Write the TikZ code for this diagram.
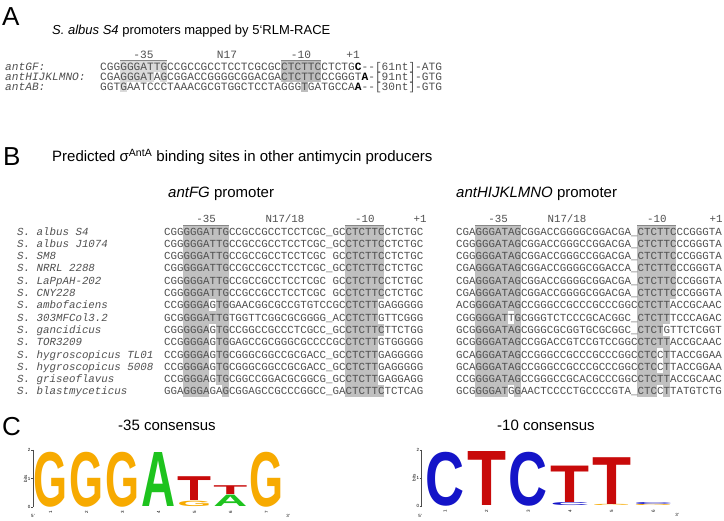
\documentclass[tikz,border=0pt]{standalone}
\usepackage{fontspec}
\setmainfont{Liberation Sans}
\setmonofont{Liberation Mono}
\usepackage{graphicx}
\definecolor{seqgray}{RGB}{80,80,80}
\definecolor{boxB}{RGB}{192,192,192}
\definecolor{boxAa}{RGB}{218,218,218}
\definecolor{boxAb}{RGB}{190,190,190}
\definecolor{ovl}{RGB}{135,135,135}
\definecolor{lgG}{RGB}{247,170,0}
\definecolor{lgA}{RGB}{30,195,30}
\definecolor{lgT}{RGB}{200,10,10}
\definecolor{lgC}{RGB}{20,20,200}
\tikzset{
 seq/.style={inner sep=0pt, anchor=base west, text=seqgray, font=\ttfamily\fontsize{10.8}{12}\selectfont},
 lab/.style={seq, font=\ttfamily\itshape\fontsize{10.8}{12}\selectfont},
 hdr/.style={inner sep=0pt, anchor=base, text=seqgray, font=\ttfamily\fontsize{10.8}{12}\selectfont},
 seqA/.style={seq, font=\ttfamily\fontsize{11.17}{12}\selectfont},
 labA/.style={seq, font=\ttfamily\itshape\fontsize{11.17}{12}\selectfont},
 hdrA/.style={hdr, font=\ttfamily\fontsize{11.17}{12}\selectfont},
 ttl/.style={inner sep=0pt, anchor=base west, font=\fontsize{15}{17}\selectfont},
 ttlA/.style={inner sep=0pt, anchor=base west, font=\fontsize{13}{15}\selectfont},
 big/.style={inner sep=0pt, anchor=base west, font=\fontsize{26}{28}\selectfont},
 tiny/.style={inner sep=0pt, font=\fontsize{4.5}{5}\selectfont},
 ovline/.style={draw=ovl, line width=1.2pt},
 axisline/.style={draw=black!70, line width=0.5pt},
}
\newcommand\logoltr[7]{\node[inner sep=0pt, anchor=south] (#1) at (#4,#5) {\resizebox*{#6pt}{#7pt}{\textcolor{#3}{\bfseries #2}}};}
\newcommand\hole[3]{\fill[white] ({#1+(#3-1)*6.48},{225.35+12.3*(#2-1)}) rectangle ++(6.48,12.3);}
\newcommand\brow[4]{%
 \node[lab] (sp#1) at (17,{231.5+12.3*(#1-1)+3.6}) {#2};
 \node[seq] (fg#1) at (164,{231.5+12.3*(#1-1)+3.6}) {#3};
 \node[seq] (hij#1) at (456,{231.5+12.3*(#1-1)+3.6}) {#4};}
\begin{document}
\begin{tikzpicture}[x=1pt,y=-1pt]
\useasboundingbox (0,0) rectangle (724,521);
\fill[white] (0,0) rectangle (724,521);
% ---------------- Panel A ----------------
\node[big] (pA) at (2,25.3) {A};
\node[ttlA] (tA) at (52,34.5) {\textit{S. albus S4} promoters mapped by 5‘RLM-RACE};
% boxes
\fill[boxAa] ({100+3*6.7},60.5) rectangle ({100+10*6.7},82);
\fill[white] ({100+8*6.7},72) rectangle ({100+9*6.7},82);
\fill[boxAa] ({100+3*6.7},82) rectangle ({100+4*6.7},92);
\fill[boxAb] ({100+27*6.7},60.5) rectangle ({100+33*6.7},82);
\fill[boxAb] ({100+30*6.7},82) rectangle ({100+31*6.7},92);
\draw[ovline] ({100+3*6.7},60.5) -- ({100+10*6.7},60.5);
\draw[ovline] ({100+27*6.7},60.5) -- ({100+33*6.7},60.5);
\node[hdrA] (hA1) at ({100+6.5*6.7},58.4) {-35};
\node[hdrA] (hA2) at (227,58.4) {N17};
\node[hdrA] (hA3) at ({100+30*6.7},58.4) {-10};
\node[hdrA] (hA4) at (353,58.4) {+1};
\node[labA] (la1) at (5,70.7) {antGF:};
\node[labA] (la2) at (5,80.7) {antHIJKLMNO:};
\node[labA] (la3) at (5,90.7) {antAB:};
\node[seqA] (sa1) at (100,70.7) {CGGGGGATTGCCGCCGCCTCCTCGCGCCTCTTCCTCTG\textcolor{black}{\bfseries C}--[61nt]-ATG};
\node[seqA] (sa2) at (100,80.7) {CGAGGGATAGCGGACCGGGGCGGACGACTCTTCCCGGGT\textcolor{black}{\bfseries A}-[91nt]-GTG};
\node[seqA] (sa3) at (100,90.7) {GGTGAATCCCTAAACGCGTGGCTCCTAGGGTGATGCCA\textcolor{black}{\bfseries A}--[30nt]-GTG};
% ---------------- Panel B ----------------
\node[big] (pB) at (3,165.3) {B};
\node[ttl] (tB) at (52,161.5) {Predicted σ\textsuperscript{AntA} binding sites in other antimycin producers};
\node[ttl] (tFG) at (168,197.5) {\textit{antFG} promoter};
\node[ttl] (tHIJ) at (456,197.5) {\textit{antHIJKLMNO} promoter};
% shaded boxes
\fill[boxB] ({164+3*6.48},225.35) rectangle ({164+10*6.48},397.45);
\fill[boxB] ({164+28*6.48},225.35) rectangle ({164+34*6.48},397.45);
\fill[boxB] ({456+3*6.48},225.35) rectangle ({456+10*6.48},397.45);
\fill[boxB] ({456+28*6.48},225.35) rectangle ({456+34*6.48},397.45);
\foreach \r/\p in {7/8,9/8,10/8,11/8,12/8,13/8,14/8,14/9,7/34,8/34,10/34,11/34,12/34,13/34} {\hole{164}{\r}{\p}}
\foreach \r/\p in {8/9,14/9,7/34,8/34,9/33,9/34,10/34,11/32,11/34,12/32,12/34,13/34,14/32,14/34} {\hole{456}{\r}{\p}}
\draw[ovline] ({164+3*6.48},225.35) -- ({164+10*6.48},225.35);
\draw[ovline] ({164+28*6.48},225.35) -- ({164+34*6.48},225.35);
\draw[ovline] ({456+3*6.48},225.35) -- ({456+10*6.48},225.35);
\draw[ovline] ({456+28*6.48},225.35) -- ({456+34*6.48},225.35);
\node[hdr] (hF1) at ({164+6.5*6.48},222.6) {-35};
\node[hdr] (hF2) at (285,222.6) {N17/18};
\node[hdr] (hF3) at ({164+31*6.48},222.6) {-10};
\node[hdr] (hF4) at (420,222.6) {+1};
\node[hdr] (hH1) at ({456+6.5*6.48},222.6) {-35};
\node[hdr] (hH2) at (567,222.6) {N17/18};
\node[hdr] (hH3) at ({456+31*6.48},222.6) {-10};
\node[hdr] (hH4) at (716,222.6) {+1};
\brow{1}{S. albus S4}{CGGGGGATTGCCGCCGCCTCCTCGC\_GCCTCTTCCTCTGC}{CGAGGGATAGCGGACCGGGGCGGACGA\_CTCTTCCCGGGTA}
\brow{2}{S. albus J1074}{CGGGGGATTGCCGCCGCCTCCTCGC\_GCCTCTTCCTCTGC}{CGGGGGATAGCGGACCGGGCCGGACGA\_CTCTTCCCGGGTA}
\brow{3}{S. SM8}{CGGGGGATTGCCGCCGCCTCCTCGC\ GCCTCTTCCTCTGC}{CGGGGGATAGCGGACCGGGCCGGACGA\_CTCTTCCCGGGTA}
\brow{4}{S. NRRL 2288}{CGGGGGATTGCCGCCGCCTCCTCGC\_GCCTCTTCCTCTGC}{CGAGGGATAGCGGACCGGGGCGGACCA\_CTCTTCCCGGGTA}
\brow{5}{S. LaPpAH-202}{CGGGGGATTGCCGCCGCCTCCTCGC\ GCCTCTTCCTCTGC}{CGAGGGATAGCGGACCGGGGCGGACGA\_CTCTTCCCGGGTA}
\brow{6}{S. CNY228}{CGGGGGATTGCCGCCGCCTCCTCGC\ GCCTCTTCCTCTGC}{CGAGGGATAGCGGACCGGGGCGGACGA\_CTCTTCCCGGGTA}
\brow{7}{S. ambofaciens}{CCGGGGAGTGGAACGGCGCCGTGTCCGCCTCTTGAGGGGG}{ACGGGGATAGCCGGGCCGCCCGCCCGGCCTCTTACCGCAAC}
\brow{8}{S. 303MFCol3.2}{GCGGGGATTGTGGTTCGGCGCGGGG\_ACCTCTTGTTCGGG}{CGGGGGATTGCGGGTCTCCCGCACGGC\_CTCTTTCCCAGAC}
\brow{9}{S. gancidicus}{CGGGGGAGTGCCGGCCGCCCTCGCC\_GCCTCTTCTTCTGG}{GCGGGGATAGCGGGCGCGGTGCGCGGC\_CTCTGTTCTCGGT}
\brow{10}{S. TOR3209}{CCGGGGAGTGGAGCCGCGGGCGCCCCGCCTCTTGTGGGGG}{GCGGGGATAGCCGGACCGTCCGTCCGGCCTCTTACCGCAAC}
\brow{11}{S. hygroscopicus TL01}{CCGGGGAGTGCGGGCGGCCGCGACC\_GCCTCTTGAGGGGG}{GCAGGGATAGCCGGGCCGCCCGCCCGGCCTCCTTACCGGAA}
\brow{12}{S. hygroscopicus 5008}{CCGGGGAGTGCGGGCGGCCGCGACC\_GCCTCTTGAGGGGG}{GCAGGGATAGCCGGGCCGCCCGCCCGGCCTCCTTACCGGAA}
\brow{13}{S. griseoflavus}{CCGGGGAGTGCGGCCGGACGCGGCG\_GCCTCTTGAGGAGG}{CCGGGGATAGCCGGGCCGCACGCCCGGCCTCTTACCGCAAC}
\brow{14}{S. blastmyceticus}{GGAGGGAGAGCGGAGCCGCCCGGCC\_GACTCTTCTCTCAG}{GCGGGGATGGAACTCCCCTGCCCCGTA\_CTCCTTATGTCTG}
% ---------------- Panel C ----------------
\node[big] (pC) at (2,435.3) {C};
\node[ttl] (tC1) at (118,430.5) {-35 consensus};
\node[ttl] (tC2) at (497,430.5) {-10 consensus};
% -35 logo axis
\draw[axisline] (33,450) -- (33,507);
\foreach \v/\yy in {0/507,1/478.5,2/450} {\draw[axisline] (31,\yy) -- (33,\yy); \node[tiny, anchor=east] (ta\v) at (30.5,\yy) {\v};}
\node[tiny, rotate=90] (bitsa) at (25.5,478.5) {bits};
\node[tiny] (fa5) at (33,516) {5'};
\node[tiny] (fa3) at (288,516) {3'};
\foreach \i in {1,...,7} {\node[tiny, rotate=90] (na\i) at ({50.5+36*(\i-1)},512) {\i};}
\logoltr{l35a}{G}{lgG}{50.5}{507}{34}{55}
\logoltr{l35b}{G}{lgG}{86.5}{507}{34}{55}
\logoltr{l35c}{G}{lgG}{122.5}{507}{34}{55}
\logoltr{l35d}{A}{lgA}{158.5}{507}{34}{54}
\logoltr{l35e1}{G}{lgG}{194.5}{507}{34}{5.4}
\logoltr{l35e2}{T}{lgT}{194.5}{500.8}{34}{23.8}
\logoltr{l35f1}{A}{lgA}{230.5}{507}{34}{11.4}
\logoltr{l35f2}{T}{lgT}{230.5}{494.8}{34}{8.8}
\logoltr{l35g}{G}{lgG}{266.5}{507}{34}{55}
% -10 logo axis
\draw[axisline] (421.7,450) -- (421.7,506);
\foreach \v/\yy in {0/506,1/478,2/450} {\draw[axisline] (419.7,\yy) -- (421.7,\yy); \node[tiny, anchor=east] (tb\v) at (419.2,\yy) {\v};}
\node[tiny, rotate=90] (bitsb) at (414,478) {bits};
\node[tiny] (fb5) at (420,516) {5'};
\node[tiny] (fb3) at (677,515) {3'};
\foreach \i in {1,...,6} {\node[tiny, rotate=90] (nb\i) at ({445+41.67*(\i-1)},511) {\i};}
\logoltr{l10a}{C}{lgC}{445}{506}{39}{54}
\logoltr{l10b}{T}{lgT}{486.7}{506}{39}{54}
\logoltr{l10c}{C}{lgC}{528.3}{506}{39}{54}
\logoltr{l10d1}{C}{lgC}{570}{506}{39}{3.0}
\logoltr{l10d2}{T}{lgT}{570}{502.4}{39}{36.4}
\logoltr{l10e1}{G}{lgG}{611.7}{506}{39}{1.2}
\logoltr{l10e2}{T}{lgT}{611.7}{504.3}{39}{46.8}
\logoltr{l10f1}{G}{lgG}{653.3}{506}{39}{1.2}
\logoltr{l10f2}{C}{lgC}{653.3}{504.3}{39}{2}
\end{tikzpicture}
\end{document}
